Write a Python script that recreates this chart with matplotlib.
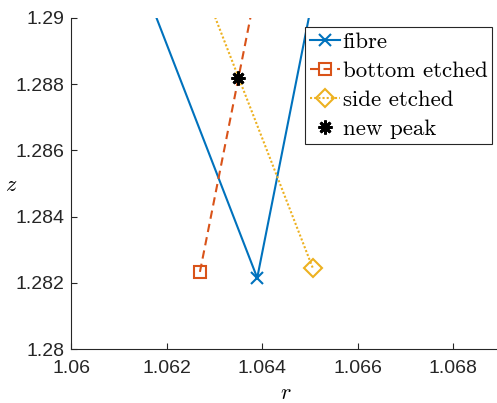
import matplotlib
matplotlib.use("Agg")
import matplotlib.pyplot as plt
from matplotlib.ticker import FuncFormatter

plt.rcParams['mathtext.fontset'] = 'cm'

# fibre curve (end points lie outside the axes and get clipped)
fibre_r = [1.0612, 1.0639, 1.0652]
fibre_z = [1.2922, 1.28215, 1.2916]

# bottom etched
bottom_r = [1.0627, 1.0641]
bottom_z = [1.28233, 1.2925]

# side etched
side_r = [1.06506, 1.0627]
side_z = [1.28246, 1.2912]

# new peak
peak_r = [1.0635]
peak_z = [1.2882]

blue = '#0072BD'
orange = '#D95319'
yellow = '#EDB120'

fig = plt.figure(figsize=(4.97, 4.03), dpi=100)
ax = fig.add_axes([71/497, 54/403, 429.75/497, 331/403])

ax.plot(fibre_r, fibre_z, '-', color=blue, lw=1.5, marker='x', ms=8, mew=1.5,
        markevery=[1], label='fibre')
ax.plot(bottom_r, bottom_z, color=orange, lw=1.5, dashes=(4, 2.5), marker='s', ms=9,
        mew=1.5, mfc='none', markevery=[0], label='bottom etched')
ax.plot(side_r, side_z, color=yellow, lw=1.5, dashes=(1, 1), marker='D', ms=9, mew=1.5,
        mfc='none', markevery=[0], label='side etched')
ax.plot(peak_r, peak_z, linestyle='none', color='black', marker=(8, 2, 0), ms=10,
        mew=2, label='new peak')

ax.set_xlim(1.06, 1.069)
ax.set_ylim(1.28, 1.29)
ax.set_xticks([1.06, 1.062, 1.064, 1.066, 1.068])
ax.set_yticks([1.28, 1.282, 1.284, 1.286, 1.288, 1.29])
fmt = FuncFormatter(lambda v, p: '%g' % round(v, 4))
ax.xaxis.set_major_formatter(fmt)
ax.yaxis.set_major_formatter(fmt)

for s in ['top', 'right']:
    ax.spines[s].set_visible(False)
for s in ['left', 'bottom']:
    ax.spines[s].set_color('#262626')
    ax.spines[s].set_linewidth(0.8)
ax.tick_params(direction='in', length=4, width=0.8, color='#262626',
               labelsize=14, labelcolor='#262626')
ax.tick_params(axis='x', pad=8)
ax.tick_params(axis='y', pad=5)
for lab in ax.get_xticklabels() + ax.get_yticklabels():
    lab.set_family('Liberation Sans')

ax.set_xlabel('$r$', fontsize=16, labelpad=4)
ax.set_ylabel('$z$', fontsize=16, rotation=0, ha='center', va='center')
ax.yaxis.set_label_coords(-0.14, 0.495)

leg = ax.legend(loc='upper left', bbox_to_anchor=(234/429.75, 1 - 9/331), fancybox=False,
                framealpha=1, edgecolor='#262626', handlelength=1.3,
                handletextpad=0.12, borderpad=0.22, borderaxespad=0, labelspacing=0.39,
                prop={'family': 'cmr10', 'size': 16.5})
leg.get_frame().set_linewidth(0.8)

fig.savefig('out.png', dpi=100)
